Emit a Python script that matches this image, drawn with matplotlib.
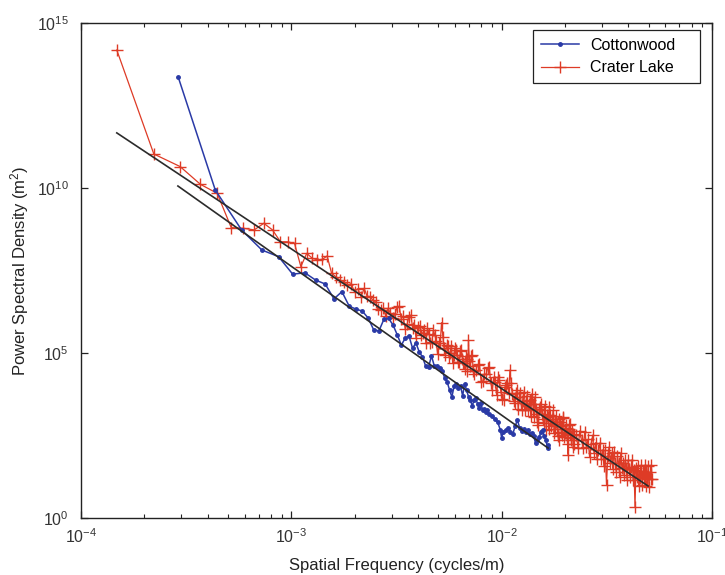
import matplotlib
matplotlib.use("Agg")
import matplotlib.pyplot as plt
import numpy as np
from matplotlib.ticker import FixedLocator, FuncFormatter, LogLocator, NullFormatter

# ======================= DATA ===================================================
# frequencies in units of 1e-4 cycles/m, PSD as log10(m^2)
cotton_freq_e4 = [
    2.90, 4.35, 5.80, 7.25, 8.70, 10.15, 11.60, 13.05, 14.50, 15.95,
    17.40, 18.85, 20.30, 21.75, 23.20, 24.65, 26.10, 27.55, 29.00, 30.45,
    31.90, 33.35, 34.80, 36.25, 37.70, 39.15, 40.60, 42.05, 43.50, 44.95,
    46.40, 47.85, 49.30, 50.75, 52.20, 53.65, 55.10, 56.55, 58.00, 59.45,
    60.90, 62.35, 63.80, 65.25, 66.70, 68.15, 69.60, 71.05, 72.50, 73.95,
    75.40, 76.85, 78.30, 79.75, 81.20, 82.65, 84.10, 85.55, 87.00,
    89.90, 92.80, 95.70, 98.60, 100.05, 101.50, 104.40, 107.30, 110.20, 113.10,
    116.00, 118.90, 121.80, 124.70, 127.60, 130.50, 133.40, 136.30, 139.20, 142.10,
    145.00, 147.90, 150.80, 153.70, 156.60, 159.50, 162.40, 165.30, 166.75,
]
cotton_log_psd = [
    13.36, 9.94, 8.73, 8.12, 7.92, 7.39, 7.43, 7.21, 7.09, 6.64,
    6.86, 6.42, 6.33, 6.27, 6.06, 5.70, 5.67, 6.02, 6.05, 5.85,
    5.55, 5.24, 5.45, 5.52, 5.15, 5.30, 5.03, 4.88, 4.61, 4.58,
    4.91, 4.61, 4.61, 4.55, 4.45, 4.24, 4.12, 3.88, 3.67, 4.00,
    4.06, 3.94, 4.00, 3.70, 4.06, 3.88, 3.67, 3.58, 3.39, 3.58,
    3.64, 3.45, 3.33, 3.48, 3.27, 3.30, 3.21, 3.27, 3.15,
    3.09, 3.00, 2.91, 2.67, 2.42, 2.61, 2.67, 2.73, 2.61, 2.55,
    2.79, 2.97, 2.73, 2.64, 2.70, 2.61, 2.67, 2.55, 2.58, 2.48,
    2.27, 2.36, 2.45, 2.61, 2.67, 2.48, 2.36, 2.12, 2.21,
]

crater_freq_e4 = [
    # sparse low-frequency end
    1.48, 2.22, 2.96, 3.70, 4.44, 5.18, 5.92, 6.66, 7.40, 8.14,
    8.88, 9.62, 10.36, 11.10, 11.84, 12.58, 13.32, 14.06, 14.80, 15.54,
    16.28, 17.02, 17.76, 18.50, 19.24, 19.98, 20.72, 21.46, 22.20, 22.94,
    23.68, 24.42, 25.16, 25.90, 26.64, 27.38, 28.12, 28.86, 29.60,
    30.34, 31.08, 31.82, 32.56, 33.30, 34.04, 34.78, 35.52, 36.26, 37.00,
    37.74, 38.48, 39.22, 39.96, 40.70, 41.44, 42.18, 42.92, 43.66, 44.40,
    45.14, 45.88, 46.62, 47.36, 48.10, 48.84, 49.58, 50.32, 51.06, 51.80,
    52.54, 53.28, 54.02, 54.76, 55.50, 56.24, 56.98, 57.72, 58.46, 59.20,
    59.94, 60.68, 61.42, 62.16, 62.90, 63.64, 64.38, 65.12, 65.86, 66.60,
    67.34, 68.08, 68.82, 69.56, 70.30, 71.04, 71.78, 72.52, 73.26, 74.00,
    # middle band
    75.48, 76.96, 78.44, 79.92, 81.40, 82.88, 84.36, 85.84, 87.32, 88.80,
    90.28, 91.76, 93.24, 94.72, 96.20, 97.68, 99.16, 100.64, 102.12, 103.60,
    105.08, 106.56, 108.04, 109.52, 111.00, 112.48, 113.96, 115.44, 116.92, 118.40,
    119.88, 121.36, 122.84, 124.32, 125.80, 127.28, 128.76, 130.24, 131.72, 133.20,
    134.68, 136.16, 137.64, 139.12, 140.60, 142.08, 143.56, 145.04, 146.52, 148.00,
    149.48, 150.96, 152.44, 153.92, 155.40, 156.88, 158.36, 159.84, 161.32, 162.80,
    164.28, 165.76, 167.24, 168.72, 170.20, 171.68, 173.16, 174.64, 176.12, 177.60,
    179.08, 180.56, 182.04, 183.52, 185.00, 186.48, 187.96, 189.44, 190.92, 192.40,
    193.88, 195.36, 196.84, 198.32, 199.80, 201.28, 202.76, 204.24, 205.72, 207.20,
    208.68, 210.16, 211.64, 213.12, 214.60, 216.08, 217.56, 219.04, 220.52, 222.00,
    # dense high-frequency end
    226.44, 230.88, 235.32, 239.76, 244.20, 248.64, 253.08, 257.52, 261.96, 266.40,
    270.84, 275.28, 279.72, 284.16, 288.60, 293.04, 297.48, 301.92, 306.36, 310.80,
    315.24, 319.68, 324.12, 328.56, 333.00, 337.44, 341.88, 346.32, 350.76, 355.20,
    359.64, 364.08, 368.52, 372.96, 377.40, 381.84, 386.28, 390.72, 395.16, 399.60,
    404.04, 408.48, 412.92, 417.36, 421.80, 426.24, 430.68, 435.12, 439.56, 444.00,
    448.44, 452.88, 457.32, 461.76, 466.20, 470.64, 475.08, 479.52, 483.96, 488.40,
    492.84, 497.28, 501.72, 506.16, 510.60, 515.04, 519.48,
]
crater_log_psd = [
    14.18, 11.03, 10.65, 10.11, 9.84, 8.80, 8.78, 8.73, 8.93, 8.73,
    8.37, 8.37, 8.32, 7.62, 8.02, 7.87, 7.82, 7.84, 7.94, 7.42,
    7.31, 7.21, 7.16, 7.06, 7.10, 6.86, 6.95, 6.70, 6.96, 6.72,
    6.71, 6.60, 6.55, 6.32, 6.30, 6.35, 6.12, 6.35, 6.20,
    6.06, 6.17, 6.38, 6.42, 6.04, 6.12, 5.74, 5.87, 6.09, 6.15,
    5.76, 5.86, 5.44, 5.80, 5.82, 5.56, 5.61, 5.70, 5.29, 5.75,
    5.58, 5.30, 5.34, 5.69, 5.55, 5.36, 4.96, 5.29, 5.31, 5.92,
    5.50, 5.16, 4.95, 5.24, 5.22, 4.88, 5.00, 5.20, 4.71, 4.93,
    5.16, 5.09, 4.94, 4.72, 4.72, 5.06, 5.08, 4.83, 4.71, 4.52,
    4.90, 4.83, 4.46, 5.39, 4.75, 4.60, 4.91, 4.94, 4.44, 4.35,
    4.48, 4.65, 4.67, 4.13, 4.15, 4.36, 4.35, 4.55, 4.57, 4.09,
    3.89, 4.26, 4.13, 3.72, 4.27, 4.18, 3.83, 3.60, 3.58, 3.97,
    4.03, 4.10, 3.80, 4.48, 4.08, 3.75, 3.56, 3.48, 3.78, 3.89,
    3.31, 3.66, 3.79, 3.27, 3.55, 3.82, 3.27, 3.45, 3.71, 3.27,
    3.47, 3.57, 3.08, 3.76, 3.47, 3.05, 3.67, 3.31, 3.16, 2.90,
    2.83, 3.31, 3.36, 3.45, 3.16, 3.01, 2.87, 3.26, 3.39, 2.67,
    3.13, 3.05, 2.69, 3.36, 3.12, 2.78, 2.93, 3.01, 3.26, 2.58,
    2.70, 3.08, 2.92, 2.85, 2.49, 2.37, 3.01, 2.92, 2.78, 2.61,
    2.52, 3.02, 3.07, 2.44, 2.57, 2.73, 2.82, 2.55, 2.24, 1.92,
    2.69, 2.83, 2.84, 2.35, 2.42, 2.65, 2.54, 2.16, 2.24, 2.53,
    2.51, 2.13, 2.64, 2.36, 2.13, 2.62, 2.16, 2.38, 1.85, 2.24,
    2.51, 1.96, 2.28, 1.80, 2.05, 2.27, 1.79, 2.06, 1.58, 2.05,
    1.01, 1.88, 2.15, 1.68, 1.96, 1.50, 2.01, 1.68, 1.39, 1.87,
    1.68, 1.24, 1.97, 1.52, 1.67, 1.30, 1.75, 1.51, 1.14, 1.75,
    1.50, 1.25, 1.56, 1.77, 1.15, 1.45, 0.33, 1.51, 1.24, 1.59,
    0.98, 1.42, 1.22, 1.60, 0.99, 1.42, 1.20, 1.60, 0.97, 1.40,
    1.18, 1.59, 0.95, 1.38, 1.17, 1.60, 1.19,
]

# power-law fit lines: two end points each
cotton_fit_freq = [2.89e-4, 1.663e-2]
cotton_fit_log_psd = [10.06, 2.12]
crater_fit_freq = [1.48e-4, 4.97e-2]
crater_fit_log_psd = [11.67, 0.97]
# ================================================================

assert len(cotton_freq_e4) == len(cotton_log_psd)
assert len(crater_freq_e4) == len(crater_log_psd)

cotton_f = np.array(cotton_freq_e4) * 1e-4
cotton_p = 10.0 ** np.array(cotton_log_psd)
crater_f = np.array(crater_freq_e4) * 1e-4
crater_p = 10.0 ** np.array(crater_log_psd)

plt.rcParams['font.family'] = ['Liberation Sans', 'DejaVu Sans']
plt.rcParams['mathtext.fontset'] = 'custom'
plt.rcParams['mathtext.rm'] = 'Liberation Sans'
plt.rcParams['mathtext.it'] = 'Liberation Sans:italic'

fig = plt.figure(figsize=(7.25, 5.75), dpi=100)
ax = fig.add_axes([0.1117, 0.0991, 0.8703, 0.8609])

blue = '#2a3aa6'
red = '#de3b26'

ax.plot(cotton_f, cotton_p, '.-', color=blue, markersize=5, linewidth=1.1,
        label='Cottonwood', zorder=3)
ax.plot(crater_f, crater_p, '+-', color=red, markersize=9, markeredgewidth=1.0,
        linewidth=0.9, label='Crater Lake', zorder=2)

# --- fit lines on top ---
ax.plot(cotton_fit_freq, 10.0 ** np.array(cotton_fit_log_psd), '-', color='#2b2b2b',
        linewidth=1.2, zorder=4)
ax.plot(crater_fit_freq, 10.0 ** np.array(crater_fit_log_psd), '-', color='#2b2b2b',
        linewidth=1.2, zorder=4)

ax.set_xscale('log')
ax.set_yscale('log')
ax.set_xlim(1e-4, 1e-1)
ax.set_ylim(1e0, 1e15)

# --- ticks, MATLAB style ---
def pow_label(v, pos):
    return r'10$^{%d}$' % int(round(np.log10(v)))

ax.xaxis.set_major_locator(FixedLocator([1e-4, 1e-3, 1e-2, 1e-1]))
ax.xaxis.set_minor_locator(LogLocator(base=10, subs=np.arange(2, 10)))
ax.xaxis.set_minor_formatter(NullFormatter())
ax.xaxis.set_major_formatter(FuncFormatter(pow_label))
ax.yaxis.set_major_locator(FixedLocator([1e0, 1e5, 1e10, 1e15]))
ax.yaxis.set_minor_locator(FixedLocator([]))
ax.yaxis.set_major_formatter(FuncFormatter(pow_label))

ax.tick_params(which='both', direction='in', top=True, right=True, labelsize=11.5,
               color='#222222', labelcolor='#333333')
ax.tick_params(which='major', length=5, width=0.9)
ax.tick_params(axis='x', which='major', pad=7)
ax.tick_params(axis='y', which='major', pad=9)
ax.tick_params(which='minor', length=3, width=0.8)
for s in ax.spines.values():
    s.set_linewidth(1.0)
    s.set_color('#222222')

ax.set_xlabel('Spatial Frequency (cycles/m)', fontsize=12, labelpad=8, color='#222222')
ax.set_ylabel('Power Spectral Density (m$^2$)', fontsize=12, labelpad=4, color='#222222')

# legend box stretched to the reference's width
leg = ax.legend(loc='upper left', bbox_to_anchor=(0.716, 0.0, 0.265, 0.986), mode='expand',
                borderaxespad=0, fontsize=11.5, fancybox=False, framealpha=1,
                edgecolor='#222222', handlelength=2.4, handletextpad=0.7,
                borderpad=0.5, labelspacing=0.45)
leg.get_frame().set_linewidth(0.9)

plt.savefig('out.png', dpi=100)
